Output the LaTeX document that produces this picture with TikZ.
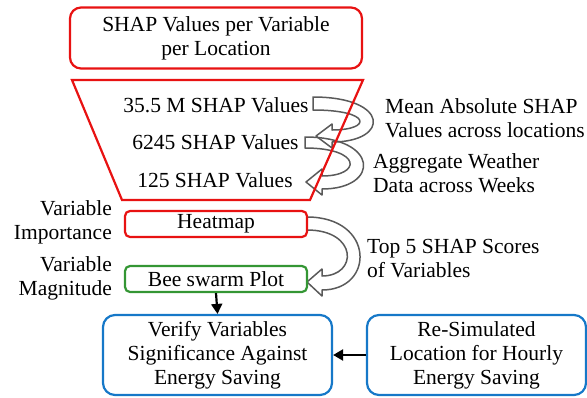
\documentclass[tikz,border=0pt]{standalone}
\usepackage{fontspec}
\setmainfont{Liberation Serif}
\usetikzlibrary{arrows.meta}
\definecolor{cred}{RGB}{232,18,18}
\definecolor{cgreen}{RGB}{52,150,52}
\definecolor{cblue}{RGB}{22,120,200}
\definecolor{cgray}{RGB}{90,90,90}
\tikzset{
  txt/.style={inner sep=0pt, font=\fontsize{21.5}{24}\selectfont, align=center},
  ltxt/.style={inner sep=0pt, font=\fontsize{21.5}{24}\selectfont, align=left, anchor=west},
  rtxt/.style={inner sep=0pt, font=\fontsize{21.5}{24}\selectfont, align=right, anchor=east},
  redbox/.style={draw=cred, line width=2.2pt, rounded corners=11pt, inner sep=0pt, font=\fontsize{21.5}{24}\selectfont, align=center},
  smallred/.style={draw=cred, line width=2.2pt, rounded corners=5pt, inner sep=0pt, font=\fontsize{21.5}{24}\selectfont, minimum width=182pt, minimum height=26pt},
  smallgreen/.style={draw=cgreen, line width=2.2pt, rounded corners=5pt, inner sep=0pt, font=\fontsize{21.5}{24}\selectfont, minimum width=182pt, minimum height=26pt},
  bluebox/.style={draw=cblue, line width=2.2pt, rounded corners=12pt, inner sep=0pt, font=\fontsize{21.5}{24}\selectfont, align=center, minimum height=80pt},
  blockarrow/.style={draw=cgray, line width=1.5pt, line join=round},
  flow/.style={-{Triangle[length=10pt,width=11pt]}, line width=2.2pt, black}
}
\begin{document}
\begin{tikzpicture}[x=1pt,y=-1pt]
\useasboundingbox (0,0) rectangle (587,397);
% top box
\node[redbox, minimum width=292pt, minimum height=61pt] (top) at (216,38) {SHAP Values per Variable\\per Location};
% block arrows
\draw[blockarrow] (313,97) .. controls (390,97) and (390,142) .. (332,142) -- (332,148) -- (316,136) -- (332,124) -- (332,130) .. controls (372,130) and (372,110) .. (313,110) -- cycle;
\draw[blockarrow] (305,137) .. controls (380,137) and (380,189) .. (322,189) -- (322,195) -- (306,182) -- (322,169) -- (322,176) .. controls (362,176) and (362,148) .. (305,148) -- cycle;
\draw[blockarrow] (307,217) .. controls (375,217) and (375,290) .. (322,290) -- (322,296) -- (307,282) -- (322,269) -- (322,276) .. controls (358,276) and (358,230) .. (307,230) -- cycle;
% funnel
\draw[cred, line width=2.2pt, line join=miter] (72,80) -- (363,80) -- (310,200) -- (122,200) -- cycle;
\node[txt] (v1) at (216,105) {35.5 M SHAP Values};
\node[txt] (v2) at (215.5,142) {6245 SHAP Values};
\node[txt] (v3) at (215,180) {125 SHAP Values};
% side labels
\node[ltxt] (mean) at (385,118) {Mean Absolute SHAP\\Values across locations};
\node[ltxt] (agg) at (373,173) {Aggregate Weather\\Data across Weeks};
\node[ltxt] (top5) at (367,259) {Top 5 SHAP Scores\\of Variables};
\node[rtxt] (imp) at (112,222) {Variable\\Importance};
\node[rtxt] (mag) at (112,278) {Variable\\Magnitude};
% boxes
\node[smallred] (heat) at (216,224) {Heatmap};
\node[smallgreen] (bee) at (216,279) {Bee swarm Plot};
\node[bluebox, minimum width=229pt] (ver) at (217.5,355) {Verify Variables\\Significance Against\\Energy Saving};
\node[bluebox, minimum width=219pt] (res) at (476.5,355) {Re-Simulated\\Location for Hourly\\Energy Saving};
% connectors
\draw[flow] (bee.south) -- (ver.north);
\draw[flow] (res.west) -- (ver.east);
\end{tikzpicture}
\end{document}
